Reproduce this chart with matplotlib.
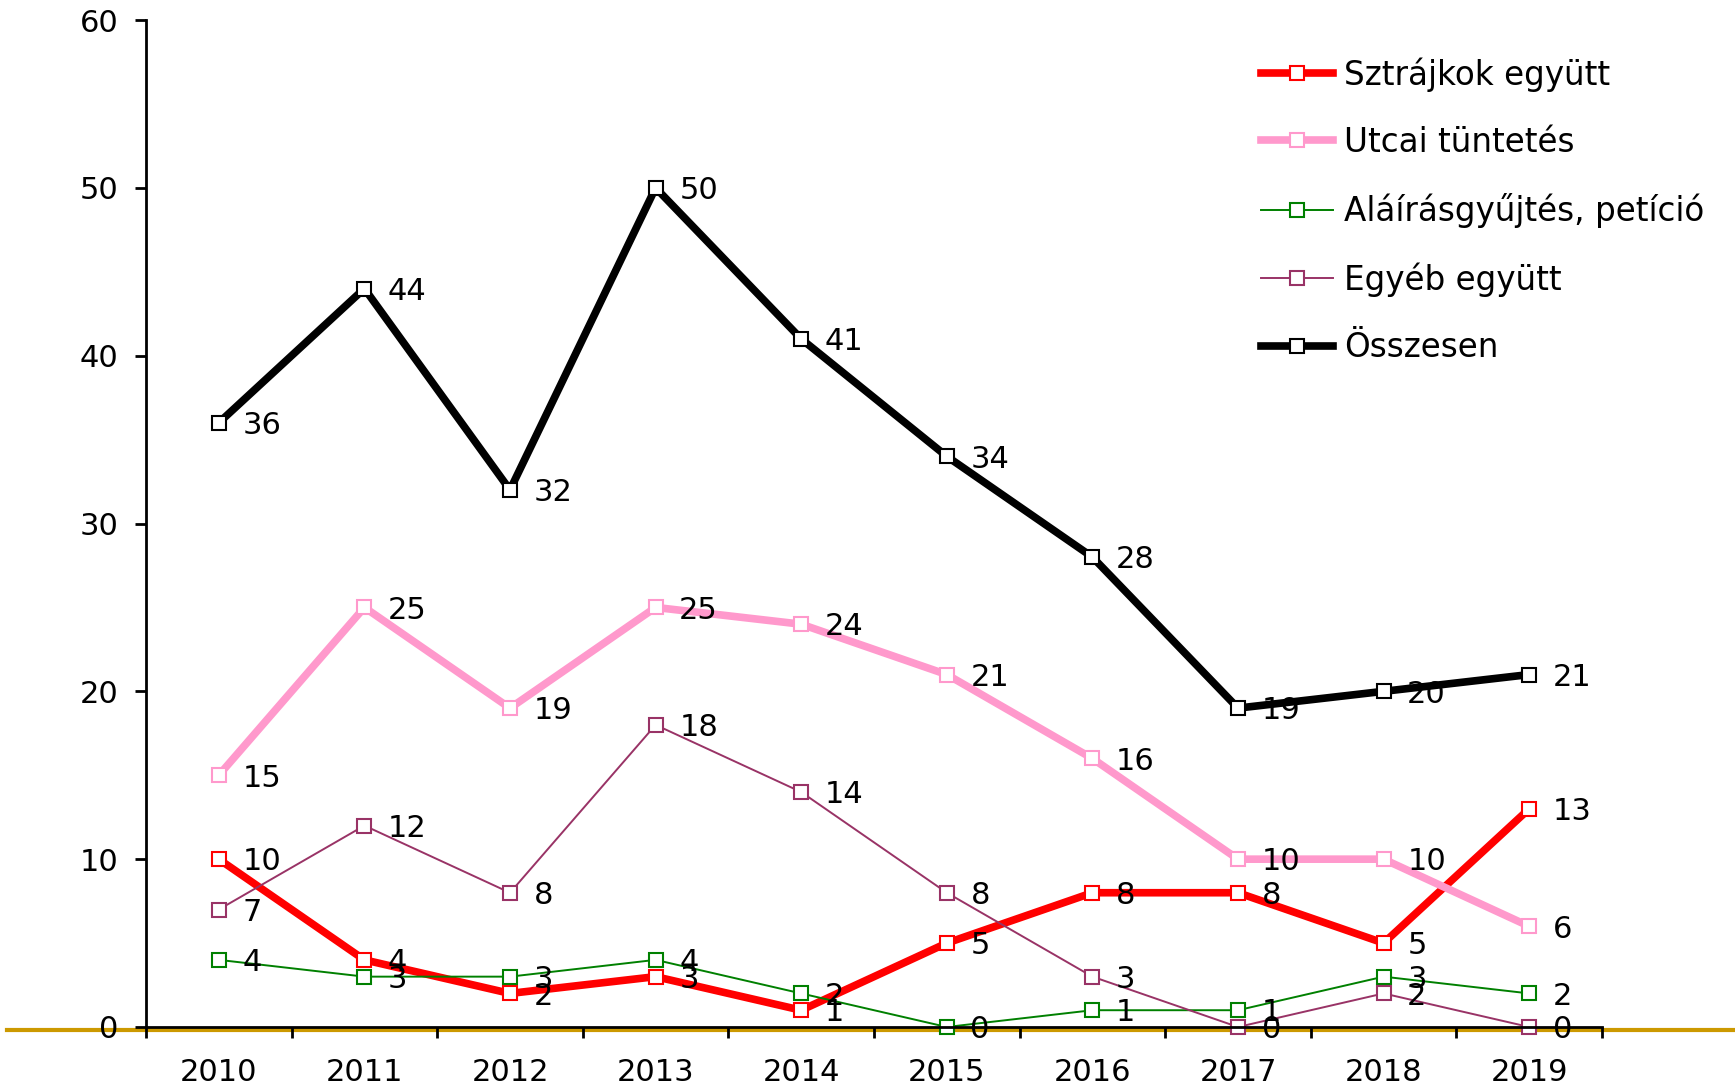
import matplotlib
matplotlib.use('Agg')
import matplotlib.pyplot as plt
import matplotlib.transforms as mtransforms
from matplotlib.lines import Line2D

# Data
years = ['2010', '2011', '2012', '2013', '2014', '2015', '2016', '2017', '2018', '2019']
sztrajkok = [10, 4, 2, 3, 1, 5, 8, 8, 5, 13]
utcai = [15, 25, 19, 25, 24, 21, 16, 10, 10, 6]
alairas = [4, 3, 3, 4, 2, 0, 1, 1, 3, 2]
egyeb = [7, 12, 8, 18, 14, 8, 3, 0, 2, 0]
osszesen = [36, 44, 32, 50, 41, 34, 28, 19, 20, 21]

series = [
    ('Sztrájkok együtt', sztrajkok, '#FF0000', 5.5),
    ('Utcai tüntetés', utcai, '#FF99CC', 5.5),
    ('Aláírásgyűjtés, petíció', alairas, '#008000', 1.4),
    ('Egyéb együtt', egyeb, '#993366', 1.4),
    ('Összesen', osszesen, '#000000', 5.5),
]

# wide sans, the original text is rendered quite broad
plt.rcParams['font.family'] = ['DejaVu Sans']
FS = 22

fig = plt.figure(figsize=(17.35, 10.88), dpi=100)
ax = fig.add_axes([146 / 1735, 61 / 1088, 1456 / 1735, 1007 / 1088])

x = list(range(len(years)))
for label, values, color, lw in series:
    ax.plot(x, values, color=color, linewidth=lw, marker='s', markersize=10,
            markerfacecolor='white', markeredgecolor=color, markeredgewidth=1.5,
            label=label, clip_on=False)
    # data labels to the right of each point
    for xi, v in zip(x, values):
        ax.annotate(str(v), (xi, v), xytext=(17, -2), textcoords='offset points',
                    ha='left', va='center', fontsize=FS, color='black')

ax.set_xlim(-0.5, len(years) - 0.5)
ax.set_ylim(0, 60)
ax.set_yticks(range(0, 61, 10))
ax.tick_params(axis='y', labelsize=FS, length=8, width=2, direction='out', pad=12)

# ticks between categories, labels at the centres
ax.set_xticks([i - 0.5 for i in range(len(years) + 1)])
ax.set_xticklabels([])
ax.set_xticks(x, minor=True)
ax.set_xticklabels(years, minor=True, fontsize=FS)
ax.tick_params(axis='x', which='major', length=8, width=2, direction='out')
ax.tick_params(axis='x', which='minor', length=0, pad=22)

for side in ['top', 'right']:
    ax.spines[side].set_visible(False)
ax.spines['left'].set_linewidth(2)
ax.spines['bottom'].set_linewidth(2)

# gold base line across the whole figure
trans = mtransforms.blended_transform_factory(fig.transFigure, ax.transData)
fig.add_artist(Line2D([7 / 1735, 1.0], [-0.15, -0.15], transform=trans,
                      color='#CC9900', linewidth=3, zorder=0))

ax.legend(loc='upper left', bbox_to_anchor=(1248 / 1735, 1 - 44 / 1088),
          bbox_transform=fig.transFigure, frameon=False, fontsize=23.5,
          numpoints=1, handlelength=2.2, handletextpad=0.35, labelspacing=1.05,
          borderaxespad=0)

plt.savefig('out.png', dpi=100)
